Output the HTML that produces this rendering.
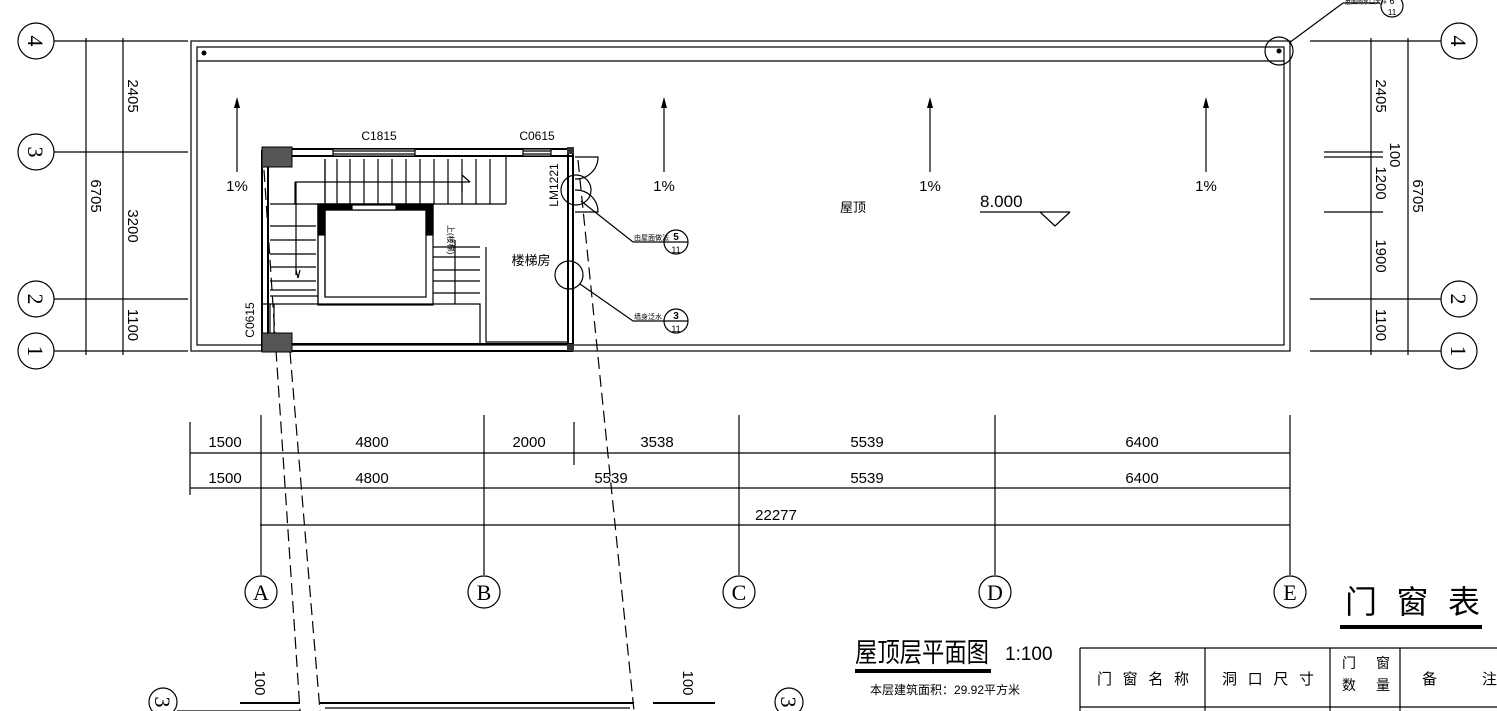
<!DOCTYPE html>
<html><head><meta charset="utf-8"><style>
html,body{margin:0;padding:0;background:#fff;}
svg{display:block;font-family:"Liberation Sans","Noto Sans CJK SC",sans-serif;}
</style></head><body>
<svg width="1497" height="711" viewBox="0 0 1497 711" xmlns="http://www.w3.org/2000/svg">
<g stroke="#000" fill="none" stroke-width="1.2">
<!-- left axis bubbles -->
<circle cx="36" cy="41" r="18"/><circle cx="36" cy="152" r="18"/><circle cx="36" cy="299" r="18"/><circle cx="36" cy="351" r="18"/>
<line x1="54" y1="41" x2="188" y2="41"/><line x1="54" y1="152" x2="188" y2="152"/><line x1="54" y1="299" x2="188" y2="299"/><line x1="54" y1="351" x2="188" y2="351"/>
<line x1="86" y1="38" x2="86" y2="355"/><line x1="123" y1="38" x2="123" y2="355"/>
<!-- right axis bubbles -->
<circle cx="1459" cy="41" r="18"/><circle cx="1459" cy="299" r="18"/><circle cx="1459" cy="351" r="18"/>
<line x1="1310" y1="41" x2="1441" y2="41"/><line x1="1310" y1="299" x2="1441" y2="299"/><line x1="1310" y1="351" x2="1441" y2="351"/>
<line x1="1324" y1="152" x2="1383" y2="152"/><line x1="1324" y1="157" x2="1383" y2="157"/><line x1="1324" y1="212" x2="1383" y2="212"/>
<line x1="1371" y1="38" x2="1371" y2="355"/><line x1="1408" y1="38" x2="1408" y2="355"/>
<!-- roof outline -->
<rect x="191" y="41" width="1099" height="310"/>
<rect x="197" y="47" width="1087" height="298"/>
<line x1="197" y1="61" x2="1284" y2="61"/>
<circle cx="1279" cy="51" r="14"/>
<line x1="1289" y1="43" x2="1343" y2="3"/><line x1="1343" y1="3" x2="1380" y2="3"/>
<circle cx="1392" cy="6" r="11"/>
<!-- stair room walls -->
<line x1="262" y1="149" x2="573" y2="149" stroke-width="2"/>
<line x1="262" y1="156" x2="573" y2="156" stroke-width="2"/>
<line x1="262" y1="344" x2="573" y2="344" stroke-width="2"/>
<line x1="262" y1="351" x2="573" y2="351" stroke-width="2"/>
<line x1="262" y1="150" x2="262" y2="351" stroke-width="2"/>
<line x1="268" y1="166" x2="268" y2="333" stroke-width="2"/>
<line x1="568" y1="152" x2="568" y2="351" stroke-width="2"/>
<line x1="573" y1="152" x2="573" y2="351" stroke-width="2"/>
<rect x="333" y="149" width="82" height="7" fill="#fff"/><rect x="523" y="149" width="28" height="7" fill="#fff"/>
<line x1="333" y1="151" x2="415" y2="151"/><line x1="333" y1="154" x2="415" y2="154"/>
<line x1="523" y1="151" x2="551" y2="151"/><line x1="523" y1="154" x2="551" y2="154"/>
<!-- stairs -->
<line x1="325" y1="159" x2="325" y2="202"/>
<polyline points="295,182 295,204 270,204"/>
<line x1="294" y1="204" x2="506" y2="204"/><line x1="506" y1="156" x2="506" y2="204"/>
<line x1="323" y1="182" x2="470" y2="182"/><line x1="295" y1="182" x2="323" y2="182"/>
<path d="M 325 159 V 204 M 337 159 V 204 M 350 159 V 204 M 364 159 V 204 M 378 159 V 204 M 392 159 V 204 M 406 159 V 204 M 420 159 V 204 M 434 159 V 204 M 448 159 V 204 M 462 159 V 204 M 476 159 V 204 M 490 159 V 204"/>
<line x1="296" y1="182" x2="296" y2="275"/>
<path d="M 270 226 H 316 M 270 240 H 316 M 270 254 H 316 M 270 267 H 316 M 270 281 H 316 M 270 290 H 316"/>
<line x1="270" y1="296" x2="318" y2="296"/>
<line x1="318" y1="204" x2="318" y2="305"/><line x1="325" y1="210" x2="325" y2="297"/>
<rect x="318" y="204" width="115" height="101"/>
<rect x="325" y="210" width="101" height="87"/>
<rect x="318" y="204" width="115" height="6" fill="#000"/>
<rect x="318" y="210" width="7" height="25" fill="#000"/><rect x="426" y="210" width="7" height="25" fill="#000"/>
<rect x="352" y="205" width="44" height="5" fill="#fff"/>
<path d="M 433 247 H 480 M 433 257 H 480 M 433 270 H 480 M 433 281 H 480 M 433 293 H 480"/>
<line x1="455" y1="240" x2="455" y2="304"/>
<polyline points="262,304 480,304 480,344"/><polyline points="486,247 486,342 568,342"/>
<line x1="270" y1="304" x2="270" y2="333"/><line x1="274" y1="304" x2="274" y2="333"/>
<line x1="462" y1="175" x2="470" y2="182"/><line x1="462" y1="182" x2="462" y2="192"/>
<polyline points="296,270 298,278 300,270"/>
<!-- door -->
<path d="M 575 157 H 598 A 22 22 0 0 1 575 179"/>
<path d="M 575 212 H 598 A 22 22 0 0 0 575 190"/>
<circle cx="576" cy="190" r="15"/><circle cx="569" cy="275" r="14"/>
<line x1="581" y1="201" x2="633" y2="242"/><line x1="633" y1="242" x2="664" y2="242"/>
<circle cx="676" cy="242" r="12"/><line x1="664" y1="242" x2="688" y2="242"/>
<line x1="580" y1="284" x2="633" y2="321"/><line x1="633" y1="321" x2="664" y2="321"/>
<circle cx="676" cy="321" r="12"/><line x1="664" y1="321" x2="688" y2="321"/>
<!-- slope arrows -->
<line x1="237" y1="100" x2="237" y2="172"/><line x1="664" y1="100" x2="664" y2="172"/>
<line x1="930" y1="100" x2="930" y2="172"/><line x1="1206" y1="100" x2="1206" y2="172"/>
<!-- elevation mark -->
<line x1="980" y1="212" x2="1070" y2="212"/><polyline points="1040,212 1055,226 1070,212"/>
<!-- dashed -->
<g stroke-dasharray="12,6"><line x1="264" y1="170" x2="300" y2="711"/><line x1="290" y1="352" x2="320" y2="711"/><line x1="578" y1="160" x2="634" y2="711"/></g>
<!-- bottom dimensions -->
<line x1="190" y1="453" x2="1290" y2="453"/><line x1="190" y1="488" x2="1290" y2="488"/><line x1="260" y1="525" x2="1290" y2="525"/>
<line x1="190" y1="422" x2="190" y2="495"/><line x1="574" y1="422" x2="574" y2="465"/>
<line x1="261" y1="415" x2="261" y2="575"/><line x1="484" y1="415" x2="484" y2="575"/><line x1="739" y1="415" x2="739" y2="575"/><line x1="995" y1="415" x2="995" y2="575"/><line x1="1290" y1="415" x2="1290" y2="575"/>
<circle cx="261" cy="592" r="16"/><circle cx="484" cy="592" r="16"/><circle cx="739" cy="592" r="16"/><circle cx="995" cy="592" r="16"/><circle cx="1290" cy="592" r="16"/>
<!-- bottom partial -->
<circle cx="163" cy="702" r="14"/><circle cx="789" cy="702" r="14"/>
<line x1="177" y1="711" x2="300" y2="711"/><line x1="240" y1="703" x2="300" y2="703" stroke-width="2"/>
<line x1="320" y1="703" x2="634" y2="703" stroke-width="2"/><line x1="325" y1="708" x2="630" y2="708"/>
<line x1="653" y1="703" x2="715" y2="703" stroke-width="2"/>
<!-- table -->
<line x1="1080" y1="648" x2="1497" y2="648"/><line x1="1080" y1="707" x2="1497" y2="707"/>
<line x1="1080" y1="648" x2="1080" y2="711"/><line x1="1205" y1="648" x2="1205" y2="711"/><line x1="1330" y1="648" x2="1330" y2="711"/><line x1="1400" y1="648" x2="1400" y2="711"/>
</g>
<g fill="#000">
<polygon points="237,97 234,108 240,108"/><polygon points="664,97 661,108 667,108"/><polygon points="930,97 927,108 933,108"/><polygon points="1206,97 1203,108 1209,108"/>
<circle cx="204" cy="53" r="2.5"/><circle cx="1279" cy="51" r="2.5"/>
<rect x="262" y="147" width="30" height="20" fill="#555" stroke="#000"/>
<rect x="262" y="333" width="30" height="19" fill="#555" stroke="#000"/>
<rect x="567" y="147" width="7" height="7" fill="#333"/><rect x="567" y="344" width="7" height="7" fill="#333"/>
<rect x="855" y="669" width="136" height="4"/><rect x="1340" y="625" width="142" height="4"/>
</g>
<g font-size="15" fill="#000" font-family="'Liberation Sans',sans-serif">
<text x="225" y="447" text-anchor="middle">1500</text><text x="372" y="447" text-anchor="middle">4800</text><text x="529" y="447" text-anchor="middle">2000</text><text x="657" y="447" text-anchor="middle">3538</text><text x="867" y="447" text-anchor="middle">5539</text><text x="1142" y="447" text-anchor="middle">6400</text>
<text x="225" y="483" text-anchor="middle">1500</text><text x="372" y="483" text-anchor="middle">4800</text><text x="611" y="483" text-anchor="middle">5539</text><text x="867" y="483" text-anchor="middle">5539</text><text x="1142" y="483" text-anchor="middle">6400</text>
<text x="776" y="520" text-anchor="middle">22277</text>
<text x="237" y="191" text-anchor="middle">1%</text><text x="664" y="191" text-anchor="middle">1%</text><text x="930" y="191" text-anchor="middle">1%</text><text x="1206" y="191" text-anchor="middle">1%</text>
<text x="980" y="207" font-size="17">8.000</text>
<text x="1005" y="660" font-size="19">1:100</text>
</g>
<g font-size="12" fill="#000">
<text x="379" y="140" text-anchor="middle">C1815</text><text x="537" y="140" text-anchor="middle">C0615</text>
<text transform="translate(558,185) rotate(-90)" text-anchor="middle">LM1221</text>
<text transform="translate(254,320) rotate(-90)" text-anchor="middle">C0615</text>
</g>
<g font-size="15" fill="#000" font-family="'Liberation Sans',sans-serif">
<text transform="translate(128,96) rotate(90)" text-anchor="middle">2405</text>
<text transform="translate(128,226) rotate(90)" text-anchor="middle">3200</text>
<text transform="translate(128,325) rotate(90)" text-anchor="middle">1100</text>
<text transform="translate(91,196) rotate(90)" text-anchor="middle">6705</text>
<text transform="translate(1376,96) rotate(90)" text-anchor="middle">2405</text>
<text transform="translate(1390,155) rotate(90)" text-anchor="middle">100</text>
<text transform="translate(1376,183) rotate(90)" text-anchor="middle">1200</text>
<text transform="translate(1376,256) rotate(90)" text-anchor="middle">1900</text>
<text transform="translate(1376,325) rotate(90)" text-anchor="middle">1100</text>
<text transform="translate(1413,196) rotate(90)" text-anchor="middle">6705</text>
<text transform="translate(255,683) rotate(90)" text-anchor="middle">100</text>
<text transform="translate(683,683) rotate(90)" text-anchor="middle">100</text>
</g>
<g font-family="'Liberation Serif',serif" font-size="22" fill="#000" text-anchor="middle">
<text x="36" y="49" transform="rotate(90 36 41)">4</text><text x="36" y="160" transform="rotate(90 36 152)">3</text><text x="36" y="307" transform="rotate(90 36 299)">2</text><text x="36" y="359" transform="rotate(90 36 351)">1</text>
<text x="1459" y="49" transform="rotate(90 1459 41)">4</text><text x="1459" y="307" transform="rotate(90 1459 299)">2</text><text x="1459" y="359" transform="rotate(90 1459 351)">1</text>
<text x="163" y="710" transform="rotate(90 163 702)">3</text><text x="789" y="710" transform="rotate(90 789 702)">3</text>
<text x="261" y="600">A</text><text x="484" y="600">B</text><text x="739" y="600">C</text><text x="995" y="600">D</text><text x="1290" y="600">E</text>
</g>
<g fill="#000" font-family="'Liberation Sans','Noto Sans CJK SC',sans-serif">
<text x="853" y="212" font-size="13" text-anchor="middle">屋顶</text>
<text x="531" y="265" font-size="13" text-anchor="middle">楼梯房</text>
<text x="448" y="225" font-size="8" transform="rotate(90 448 225)">上(楼梯)</text>
<text x="634" y="240" font-size="7">由屋面做法</text><text x="634" y="319" font-size="7">墙身泛水</text>
<text x="676" y="240" font-size="10" text-anchor="middle" font-weight="bold">5</text><text x="676" y="253" font-size="9" text-anchor="middle">11</text>
<text x="676" y="319" font-size="10" text-anchor="middle" font-weight="bold">3</text><text x="676" y="332" font-size="9" text-anchor="middle">11</text>
<text x="1392" y="4" font-size="9" text-anchor="middle">6</text><text x="1392" y="15" font-size="8" text-anchor="middle">11</text>
<text x="1345" y="4" font-size="6">屋面雨水口大样</text>
<text x="855" y="662" font-size="27" transform="scale(1 1)" textLength="134" lengthAdjust="spacingAndGlyphs">屋顶层平面图</text>
<text x="870" y="694" font-size="12">本层建筑面积：29.92平方米</text>
<text x="1345" y="613" font-size="32" textLength="135" lengthAdjust="spacing">门窗表</text>
<text x="1097" y="684" font-size="15" textLength="92" lengthAdjust="spacing">门窗名称</text>
<text x="1222" y="684" font-size="15" textLength="92" lengthAdjust="spacing">洞口尺寸</text>
<text x="1342" y="668" font-size="14" textLength="48" lengthAdjust="spacing">门窗</text>
<text x="1342" y="690" font-size="14" textLength="48" lengthAdjust="spacing">数量</text>
<text x="1422" y="684" font-size="15">备</text><text x="1482" y="684" font-size="15">注</text>
</g>
</svg>
</body></html>
